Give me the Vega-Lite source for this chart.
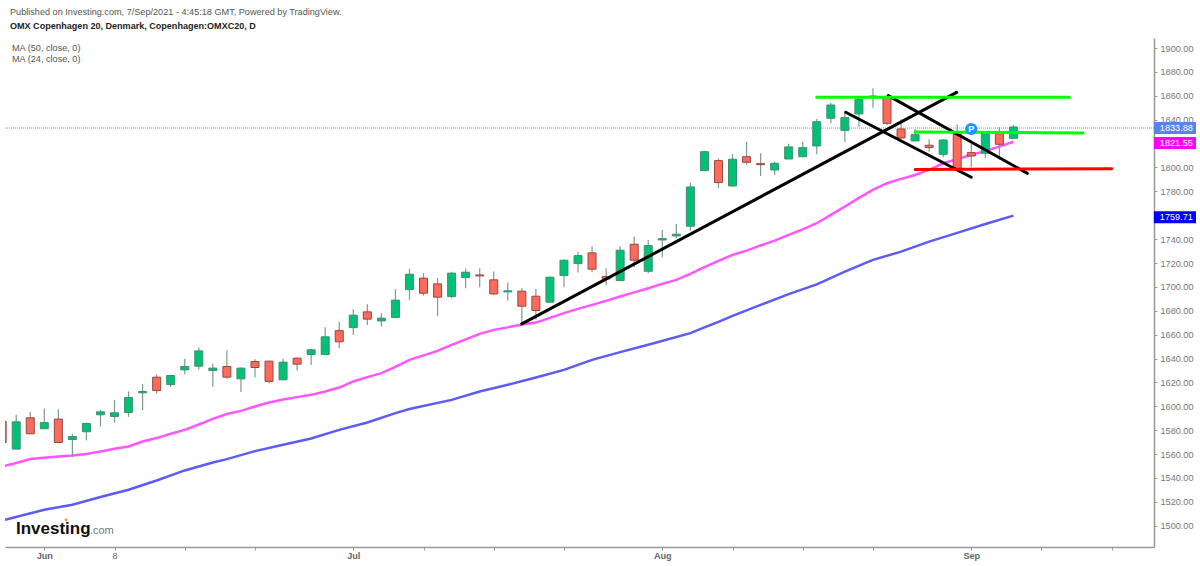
{
  "$schema": "https://vega.github.io/schema/vega-lite/v6.json",
  "description": "OMX Copenhagen 20 daily candles with two moving averages and hand drawn trend lines",
  "autosize": "none",
  "padding": {"left": 5, "top": 38, "right": 46, "bottom": 19},
  "width": 1149,
  "height": 509,
  "background": "white",
  "title": {
    "text": "Published on Investing.com, 7/Sep/2021 - 4:45:18 GMT, Powered by TradingView.",
    "subtitle": "OMX Copenhagen 20, Denmark, Copenhagen:OMXC20, D",
    "anchor": "start",
    "frame": "group",
    "dx": 5,
    "offset": 6.5,
    "font": "Liberation Sans",
    "fontSize": 9.15,
    "fontWeight": "normal",
    "color": "#555555",
    "subtitleFont": "Liberation Sans",
    "subtitleFontSize": 9.05,
    "subtitleFontWeight": "bold",
    "subtitleColor": "#222222",
    "subtitlePadding": 5
  },
  "datasets": {
    "candles": [
      {"bar": -3, "open": 1587.3, "high": 1588.7, "low": 1566, "close": 1569.7},
      {"bar": -2, "open": 1564.2, "high": 1592.9, "low": 1564, "close": 1587},
      {"bar": -1, "open": 1590.4, "high": 1595.4, "low": 1577, "close": 1577},
      {"bar": 0, "open": 1581.2, "high": 1598.2, "low": 1581, "close": 1586.4},
      {"bar": 1, "open": 1589.3, "high": 1597.6, "low": 1569.2, "close": 1569.7},
      {"bar": 2, "open": 1572.2, "high": 1577, "low": 1557.5, "close": 1574.7},
      {"bar": 3, "open": 1578.7, "high": 1586.4, "low": 1571.4, "close": 1585.6},
      {"bar": 4, "open": 1592.9, "high": 1596.8, "low": 1583.1, "close": 1595.4},
      {"bar": 5, "open": 1591.5, "high": 1605.4, "low": 1586.4, "close": 1594.6},
      {"bar": 6, "open": 1594.8, "high": 1612.4, "low": 1591.2, "close": 1607.4},
      {"bar": 7, "open": 1611.3, "high": 1618.6, "low": 1596.8, "close": 1612.4},
      {"bar": 8, "open": 1624.4, "high": 1626.4, "low": 1610.7, "close": 1613.2},
      {"bar": 9, "open": 1618.2, "high": 1626, "low": 1616.1, "close": 1625.8},
      {"bar": 10, "open": 1630.5, "high": 1639.7, "low": 1626.9, "close": 1633.3},
      {"bar": 11, "open": 1633.6, "high": 1649.2, "low": 1630.8, "close": 1646.4},
      {"bar": 12, "open": 1630, "high": 1635.6, "low": 1616.1, "close": 1632},
      {"bar": 13, "open": 1633.3, "high": 1646.7, "low": 1623, "close": 1624.4},
      {"bar": 14, "open": 1623, "high": 1632.5, "low": 1611.9, "close": 1632},
      {"bar": 15, "open": 1637.5, "high": 1639.5, "low": 1624.1, "close": 1632.5},
      {"bar": 16, "open": 1637.8, "high": 1638.2, "low": 1619.4, "close": 1620.8},
      {"bar": 17, "open": 1622.2, "high": 1639.7, "low": 1622, "close": 1637},
      {"bar": 18, "open": 1640.3, "high": 1640.8, "low": 1630, "close": 1635.3},
      {"bar": 19, "open": 1643.4, "high": 1647.9, "low": 1634.5, "close": 1647.3},
      {"bar": 20, "open": 1643.4, "high": 1666.3, "low": 1643, "close": 1658.2},
      {"bar": 21, "open": 1663.4, "high": 1670.5, "low": 1648.7, "close": 1654},
      {"bar": 22, "open": 1665.9, "high": 1681.3, "low": 1659.8, "close": 1676.3},
      {"bar": 23, "open": 1679.1, "high": 1685.5, "low": 1668, "close": 1673},
      {"bar": 24, "open": 1671.5, "high": 1678, "low": 1666.8, "close": 1673.8},
      {"bar": 25, "open": 1674.3, "high": 1698.1, "low": 1674, "close": 1688.9},
      {"bar": 26, "open": 1697.7, "high": 1715.1, "low": 1689.1, "close": 1710.6},
      {"bar": 27, "open": 1707.3, "high": 1711.5, "low": 1692.7, "close": 1694.7},
      {"bar": 28, "open": 1702.5, "high": 1707.3, "low": 1675.7, "close": 1691.4},
      {"bar": 29, "open": 1691.9, "high": 1712.6, "low": 1690.5, "close": 1711.5},
      {"bar": 30, "open": 1707.8, "high": 1715.1, "low": 1698.9, "close": 1712.3},
      {"bar": 31, "open": 1710, "high": 1715.6, "low": 1699.7, "close": 1709.2},
      {"bar": 32, "open": 1705.9, "high": 1712.8, "low": 1693.3, "close": 1694.1},
      {"bar": 33, "open": 1695.8, "high": 1703.6, "low": 1688.5, "close": 1696.7},
      {"bar": 34, "open": 1696.4, "high": 1698.9, "low": 1669, "close": 1683.8},
      {"bar": 35, "open": 1692.2, "high": 1698.3, "low": 1672.4, "close": 1680.2},
      {"bar": 36, "open": 1687.2, "high": 1708.6, "low": 1687, "close": 1708.1},
      {"bar": 37, "open": 1709.5, "high": 1723.2, "low": 1699.7, "close": 1722.3},
      {"bar": 38, "open": 1719.5, "high": 1729.3, "low": 1712, "close": 1726.2},
      {"bar": 39, "open": 1728.5, "high": 1734, "low": 1712.3, "close": 1714.8},
      {"bar": 40, "open": 1708.6, "high": 1715.6, "low": 1701.4, "close": 1706.7},
      {"bar": 41, "open": 1705.3, "high": 1734, "low": 1705, "close": 1730.7},
      {"bar": 42, "open": 1735.7, "high": 1742.1, "low": 1716.5, "close": 1722.3},
      {"bar": 43, "open": 1713.1, "high": 1739.3, "low": 1711.5, "close": 1734.6},
      {"bar": 44, "open": 1739.3, "high": 1747.7, "low": 1724.9, "close": 1740.4},
      {"bar": 45, "open": 1742.7, "high": 1752.7, "low": 1740.8, "close": 1744.1},
      {"bar": 46, "open": 1750.8, "high": 1787.3, "low": 1747.1, "close": 1783.7},
      {"bar": 47, "open": 1797.3, "high": 1813.8, "low": 1797, "close": 1813.2},
      {"bar": 48, "open": 1805.7, "high": 1807.7, "low": 1782.8, "close": 1787.3},
      {"bar": 49, "open": 1784.5, "high": 1811.3, "low": 1784, "close": 1806.9},
      {"bar": 50, "open": 1809, "high": 1821.6, "low": 1802.3, "close": 1804.3},
      {"bar": 51, "open": 1803.2, "high": 1811.9, "low": 1792.9, "close": 1802.3},
      {"bar": 52, "open": 1797.9, "high": 1804.9, "low": 1794, "close": 1803.5},
      {"bar": 53, "open": 1807.1, "high": 1819.9, "low": 1807, "close": 1817.2},
      {"bar": 54, "open": 1809, "high": 1821.6, "low": 1808.5, "close": 1816.6},
      {"bar": 55, "open": 1818, "high": 1840.6, "low": 1811, "close": 1838.3},
      {"bar": 56, "open": 1841.2, "high": 1854.2, "low": 1837, "close": 1852.3},
      {"bar": 57, "open": 1831.1, "high": 1846.2, "low": 1821.3, "close": 1841.7},
      {"bar": 58, "open": 1844.8, "high": 1858.4, "low": 1834.1, "close": 1857.1},
      {"bar": 59, "open": 1859, "high": 1866.3, "low": 1850, "close": 1859.8},
      {"bar": 60, "open": 1859.2, "high": 1860.4, "low": 1835.6, "close": 1837},
      {"bar": 61, "open": 1832.2, "high": 1840.3, "low": 1823.8, "close": 1824.7},
      {"bar": 62, "open": 1822.2, "high": 1832, "low": 1822, "close": 1827.5},
      {"bar": 63, "open": 1818.6, "high": 1823.6, "low": 1813.2, "close": 1816.6},
      {"bar": 64, "open": 1811, "high": 1823.6, "low": 1808.5, "close": 1823},
      {"bar": 65, "open": 1827.8, "high": 1836.1, "low": 1797.9, "close": 1798.5},
      {"bar": 66, "open": 1812.4, "high": 1819.7, "low": 1800.2, "close": 1809.6},
      {"bar": 67, "open": 1811.9, "high": 1829.5, "low": 1807.7, "close": 1829.1},
      {"bar": 68, "open": 1828.3, "high": 1833.9, "low": 1806.3, "close": 1819.4},
      {"bar": 69, "open": 1824.4, "high": 1835.6, "low": 1824, "close": 1833.88}
    ],
    "ma": [
      {"series": "MA 24", "bar": -2.8, "value": 1550.2},
      {"series": "MA 24", "bar": -2, "value": 1552.5},
      {"series": "MA 24", "bar": -1, "value": 1555.8},
      {"series": "MA 24", "bar": 0, "value": 1556.9},
      {"series": "MA 24", "bar": 1, "value": 1558},
      {"series": "MA 24", "bar": 2, "value": 1558.8},
      {"series": "MA 24", "bar": 3, "value": 1560},
      {"series": "MA 24", "bar": 4, "value": 1562.2},
      {"series": "MA 24", "bar": 5, "value": 1564.4},
      {"series": "MA 24", "bar": 6, "value": 1566.4},
      {"series": "MA 24", "bar": 7, "value": 1570.5},
      {"series": "MA 24", "bar": 8, "value": 1573.4},
      {"series": "MA 24", "bar": 9, "value": 1577},
      {"series": "MA 24", "bar": 10, "value": 1580.3},
      {"series": "MA 24", "bar": 11, "value": 1584.8},
      {"series": "MA 24", "bar": 12, "value": 1589.5},
      {"series": "MA 24", "bar": 13, "value": 1593.5},
      {"series": "MA 24", "bar": 14, "value": 1596.2},
      {"series": "MA 24", "bar": 15, "value": 1599.8},
      {"series": "MA 24", "bar": 16, "value": 1603.2},
      {"series": "MA 24", "bar": 17, "value": 1605.7},
      {"series": "MA 24", "bar": 18, "value": 1607.7},
      {"series": "MA 24", "bar": 19, "value": 1609.6},
      {"series": "MA 24", "bar": 20, "value": 1612.4},
      {"series": "MA 24", "bar": 21, "value": 1615.7},
      {"series": "MA 24", "bar": 22, "value": 1620.8},
      {"series": "MA 24", "bar": 23, "value": 1624.4},
      {"series": "MA 24", "bar": 24, "value": 1627.8},
      {"series": "MA 24", "bar": 25, "value": 1633},
      {"series": "MA 24", "bar": 26, "value": 1638.9},
      {"series": "MA 24", "bar": 27, "value": 1642.7},
      {"series": "MA 24", "bar": 28, "value": 1646.4},
      {"series": "MA 24", "bar": 29, "value": 1651.5},
      {"series": "MA 24", "bar": 30, "value": 1656},
      {"series": "MA 24", "bar": 31, "value": 1660.7},
      {"series": "MA 24", "bar": 32, "value": 1664},
      {"series": "MA 24", "bar": 33, "value": 1666.1},
      {"series": "MA 24", "bar": 34, "value": 1668.5},
      {"series": "MA 24", "bar": 35, "value": 1670.1},
      {"series": "MA 24", "bar": 36, "value": 1674.1},
      {"series": "MA 24", "bar": 37, "value": 1678},
      {"series": "MA 24", "bar": 38, "value": 1681.6},
      {"series": "MA 24", "bar": 39, "value": 1684.9},
      {"series": "MA 24", "bar": 40, "value": 1688.3},
      {"series": "MA 24", "bar": 41, "value": 1691.9},
      {"series": "MA 24", "bar": 42, "value": 1695.4},
      {"series": "MA 24", "bar": 43, "value": 1698.9},
      {"series": "MA 24", "bar": 44, "value": 1702.5},
      {"series": "MA 24", "bar": 45, "value": 1705.9},
      {"series": "MA 24", "bar": 46, "value": 1710.9},
      {"series": "MA 24", "bar": 47, "value": 1716.5},
      {"series": "MA 24", "bar": 48, "value": 1721.8},
      {"series": "MA 24", "bar": 49, "value": 1726.8},
      {"series": "MA 24", "bar": 50, "value": 1730.4},
      {"series": "MA 24", "bar": 51, "value": 1734.7},
      {"series": "MA 24", "bar": 52, "value": 1738.7},
      {"series": "MA 24", "bar": 53, "value": 1743.5},
      {"series": "MA 24", "bar": 54, "value": 1748.1},
      {"series": "MA 24", "bar": 55, "value": 1753.3},
      {"series": "MA 24", "bar": 56, "value": 1760.3},
      {"series": "MA 24", "bar": 57, "value": 1767.2},
      {"series": "MA 24", "bar": 58, "value": 1774.5},
      {"series": "MA 24", "bar": 59, "value": 1781.2},
      {"series": "MA 24", "bar": 60, "value": 1786.8},
      {"series": "MA 24", "bar": 61, "value": 1790.4},
      {"series": "MA 24", "bar": 62, "value": 1793.7},
      {"series": "MA 24", "bar": 63, "value": 1797.9},
      {"series": "MA 24", "bar": 64, "value": 1803.5},
      {"series": "MA 24", "bar": 65, "value": 1806.9},
      {"series": "MA 24", "bar": 66, "value": 1810.5},
      {"series": "MA 24", "bar": 67, "value": 1813.8},
      {"series": "MA 24", "bar": 68, "value": 1817.4},
      {"series": "MA 24", "bar": 69, "value": 1821.55},
      {"series": "MA 50", "bar": -2.8, "value": 1505},
      {"series": "MA 50", "bar": 0, "value": 1513.4},
      {"series": "MA 50", "bar": 2, "value": 1517.6},
      {"series": "MA 50", "bar": 4, "value": 1524},
      {"series": "MA 50", "bar": 6, "value": 1530.1},
      {"series": "MA 50", "bar": 8, "value": 1537.9},
      {"series": "MA 50", "bar": 10, "value": 1546.3},
      {"series": "MA 50", "bar": 12, "value": 1553},
      {"series": "MA 50", "bar": 13, "value": 1555.8},
      {"series": "MA 50", "bar": 15, "value": 1562.5},
      {"series": "MA 50", "bar": 17, "value": 1567.8},
      {"series": "MA 50", "bar": 19, "value": 1573.1},
      {"series": "MA 50", "bar": 21, "value": 1580.3},
      {"series": "MA 50", "bar": 23, "value": 1586.4},
      {"series": "MA 50", "bar": 25, "value": 1594.3},
      {"series": "MA 50", "bar": 26, "value": 1597.7},
      {"series": "MA 50", "bar": 29, "value": 1605.4},
      {"series": "MA 50", "bar": 31, "value": 1612.4},
      {"series": "MA 50", "bar": 33, "value": 1618},
      {"series": "MA 50", "bar": 35, "value": 1624.1},
      {"series": "MA 50", "bar": 37, "value": 1630.5},
      {"series": "MA 50", "bar": 39, "value": 1638.9},
      {"series": "MA 50", "bar": 41, "value": 1645.4},
      {"series": "MA 50", "bar": 43, "value": 1651.5},
      {"series": "MA 50", "bar": 46, "value": 1661.3},
      {"series": "MA 50", "bar": 47, "value": 1666.1},
      {"series": "MA 50", "bar": 48, "value": 1670.7},
      {"series": "MA 50", "bar": 49, "value": 1675.7},
      {"series": "MA 50", "bar": 51, "value": 1684.9},
      {"series": "MA 50", "bar": 53, "value": 1693.9},
      {"series": "MA 50", "bar": 55, "value": 1702.1},
      {"series": "MA 50", "bar": 57, "value": 1712.8},
      {"series": "MA 50", "bar": 59, "value": 1722.6},
      {"series": "MA 50", "bar": 61, "value": 1729.5},
      {"series": "MA 50", "bar": 63, "value": 1737.9},
      {"series": "MA 50", "bar": 65, "value": 1745.2},
      {"series": "MA 50", "bar": 67, "value": 1752.7},
      {"series": "MA 50", "bar": 69, "value": 1759.71}
    ],
    "drawings": [
      {"line": "uptrend", "bar": 34, "value": 1669},
      {"line": "uptrend", "bar": 64.96, "value": 1862.9},
      {"line": "channel lower", "bar": 57.06, "value": 1846.2},
      {"line": "channel lower", "bar": 66, "value": 1791.8},
      {"line": "channel upper", "bar": 60.09, "value": 1860.1},
      {"line": "channel upper", "bar": 69.99, "value": 1795.1},
      {"line": "resistance", "bar": 55, "value": 1858.7},
      {"line": "resistance", "bar": 72.98, "value": 1858.7},
      {"line": "mid level", "bar": 62, "value": 1829.7},
      {"line": "mid level", "bar": 73.97, "value": 1828.9},
      {"line": "support", "bar": 62, "value": 1798.2},
      {"line": "support", "bar": 76, "value": 1799}
    ],
    "lastPrice": [
      {"bar": -2.8, "value": 1833},
      {"bar": 79, "value": 1833}
    ],
    "priceTags": [
      {"bar": 79, "barEnd": 82, "low": 1828, "high": 1838, "mid": 1833, "tag": "1833.88", "kind": "last"},
      {"bar": 79, "barEnd": 82, "low": 1815.5, "high": 1825.5, "mid": 1820.5, "tag": "1821.55", "kind": "MA 24"},
      {"bar": 79, "barEnd": 82, "low": 1753.3, "high": 1763.3, "mid": 1758.3, "tag": "1759.71", "kind": "MA 50"}
    ]
  },
  "encoding": {
    "x": {
      "field": "bar",
      "type": "quantitative",
      "title": null,
      "scale": {"domain": [-2.798, 79.01], "nice": false, "zero": false, "padding": 0},
      "axis": {
        "values": [0, 5, 10, 15, 22, 27, 32, 37, 44, 49, 54, 59, 66, 71, 76],
        "labelExpr": "datum.value == 0 ? 'Jun' : datum.value == 5 ? '8' : datum.value == 22 ? 'Jul' : datum.value == 44 ? 'Aug' : datum.value == 66 ? 'Sep' : ''",
        "labelFontWeight": {"condition": {"test": "datum.value == 5", "value": "normal"}, "value": "bold"},
        "grid": false,
        "domainColor": "#999999",
        "domainWidth": 1.5,
        "tickColor": "#999999",
        "tickSize": 3,
        "labelColor": "#666666",
        "labelFont": "Liberation Sans",
        "labelFontSize": 9.15,
        "labelPadding": 1.5,
        "labelOverlap": false
      }
    }
  },
  "layer": [
    {
      "data": {"name": "lastPrice"},
      "mark": {"type": "line", "color": "#6f93ee", "strokeWidth": 1, "strokeDash": [1, 1], "clip": true},
      "encoding": {
        "y": {
          "field": "value",
          "type": "quantitative",
          "title": null,
          "scale": {"domain": [1482.2, 1908.4], "nice": false, "zero": false, "padding": 0},
          "axis": {
            "orient": "right",
            "values": [1500, 1520, 1540, 1560, 1580, 1600, 1620, 1640, 1660, 1680, 1700, 1720, 1740, 1760, 1780, 1800, 1820, 1840, 1860, 1880, 1900],
            "tickCount": 25,
            "labelExpr": "datum.value == 1820 || datum.value == 1760 ? '' : format(datum.value, '.2f')",
            "grid": false,
            "domainColor": "#999999",
            "domainWidth": 1.5,
            "tickColor": "#999999",
            "tickSize": 3,
            "labelColor": "#777777",
            "labelFont": "Liberation Sans",
            "labelFontSize": 9.15,
            "labelPadding": 3,
            "labelOverlap": false
          }
        }
      }
    },
    {
      "data": {"name": "ma"},
      "mark": {"type": "line", "strokeWidth": 2.5, "clip": true},
      "encoding": {
        "y": {"field": "value", "type": "quantitative", "title": null},
        "color": {
          "field": "series",
          "scale": {"domain": ["MA 24", "MA 50"], "range": ["#ff55ff", "#5c5cf5"]},
          "legend": null
        }
      }
    },
    {
      "data": {"name": "candles"},
      "mark": {"type": "rule", "color": "#7c9c8c", "strokeWidth": 1.2, "clip": true},
      "encoding": {
        "y": {"field": "low", "type": "quantitative", "title": null},
        "y2": {"field": "high"}
      }
    },
    {
      "data": {"name": "candles"},
      "mark": {"type": "bar", "width": 8, "orient": "vertical", "strokeWidth": 1, "clip": true},
      "encoding": {
        "y": {"field": "open", "type": "quantitative", "title": null},
        "y2": {"field": "close"},
        "fill": {"condition": {"test": "datum.close >= datum.open", "value": "#02c076"}, "value": "#ff6a5b"},
        "stroke": {"condition": {"test": "datum.close >= datum.open", "value": "#3f8f6f"}, "value": "#8f4a40"}
      }
    },
    {
      "data": {"name": "drawings"},
      "mark": {"type": "line", "strokeWidth": 3, "strokeCap": "round"},
      "encoding": {
        "y": {"field": "value", "type": "quantitative", "title": null},
        "color": {
          "field": "line",
          "scale": {
            "domain": ["uptrend", "channel lower", "channel upper", "resistance", "mid level", "support"],
            "range": ["#000000", "#000000", "#000000", "#00ff00", "#00ff00", "#ff0000"]
          },
          "legend": null
        }
      }
    },
    {
      "data": {"values": [{"bar": 66, "value": 1832.2, "label": "P"}]},
      "mark": {"type": "point", "filled": true, "opacity": 1, "size": 150, "color": "#1e96f5"},
      "encoding": {"y": {"field": "value", "type": "quantitative", "title": null}}
    },
    {
      "data": {"values": [{"bar": 66, "value": 1832.2, "label": "P"}]},
      "mark": {"type": "text", "color": "white", "font": "Liberation Sans", "fontSize": 9, "fontWeight": "bold"},
      "encoding": {
        "y": {"field": "value", "type": "quantitative", "title": null},
        "text": {"field": "label"}
      }
    },
    {
      "data": {"name": "priceTags"},
      "mark": {"type": "rect"},
      "encoding": {
        "x2": {"field": "barEnd"},
        "y": {"field": "low", "type": "quantitative", "title": null},
        "y2": {"field": "high"},
        "fill": {
          "field": "kind",
          "scale": {"domain": ["last", "MA 24", "MA 50"], "range": ["#5b82ea", "#ff00ff", "#0000ff"]},
          "legend": null
        }
      }
    },
    {
      "data": {"name": "priceTags"},
      "mark": {"type": "text", "align": "left", "dx": 6, "color": "white", "font": "Liberation Sans", "fontSize": 9.15},
      "encoding": {
        "y": {"field": "mid", "type": "quantitative", "title": null},
        "text": {"field": "tag"}
      }
    },
    {
      "data": {
        "values": [
          {"bar": -2.3, "value": 1900, "label": "MA (50, close, 0)"},
          {"bar": -2.3, "value": 1890.5, "label": "MA (24, close, 0)"}
        ]
      },
      "mark": {"type": "text", "align": "left", "color": "#555555", "font": "Liberation Sans", "fontSize": 9.15},
      "encoding": {
        "y": {"field": "value", "type": "quantitative", "title": null},
        "text": {"field": "label"}
      }
    },
    {
      "data": {"values": [{"bar": -2.02, "value": 1493.3, "label": "Investing"}]},
      "mark": {"type": "text", "align": "left", "baseline": "alphabetic", "color": "#111111", "font": "Liberation Sans", "fontSize": 17, "fontWeight": "bold"},
      "encoding": {
        "y": {"field": "value", "type": "quantitative", "title": null},
        "text": {"field": "label"}
      }
    },
    {
      "data": {"values": [{"bar": 3.25, "value": 1493.3, "label": ".com"}]},
      "mark": {"type": "text", "align": "left", "baseline": "alphabetic", "color": "#777777", "font": "Liberation Sans", "fontSize": 11},
      "encoding": {
        "y": {"field": "value", "type": "quantitative", "title": null},
        "text": {"field": "label"}
      }
    },
    {
      "data": {"values": [{"bar": 1.55, "value": 1504.8}]},
      "mark": {"type": "point", "filled": true, "opacity": 1, "size": 8, "color": "#f7931e"},
      "encoding": {"y": {"field": "value", "type": "quantitative", "title": null}}
    }
  ],
  "resolve": {"scale": {"color": "independent", "fill": "independent"}},
  "config": {"view": {"stroke": null}}
}
